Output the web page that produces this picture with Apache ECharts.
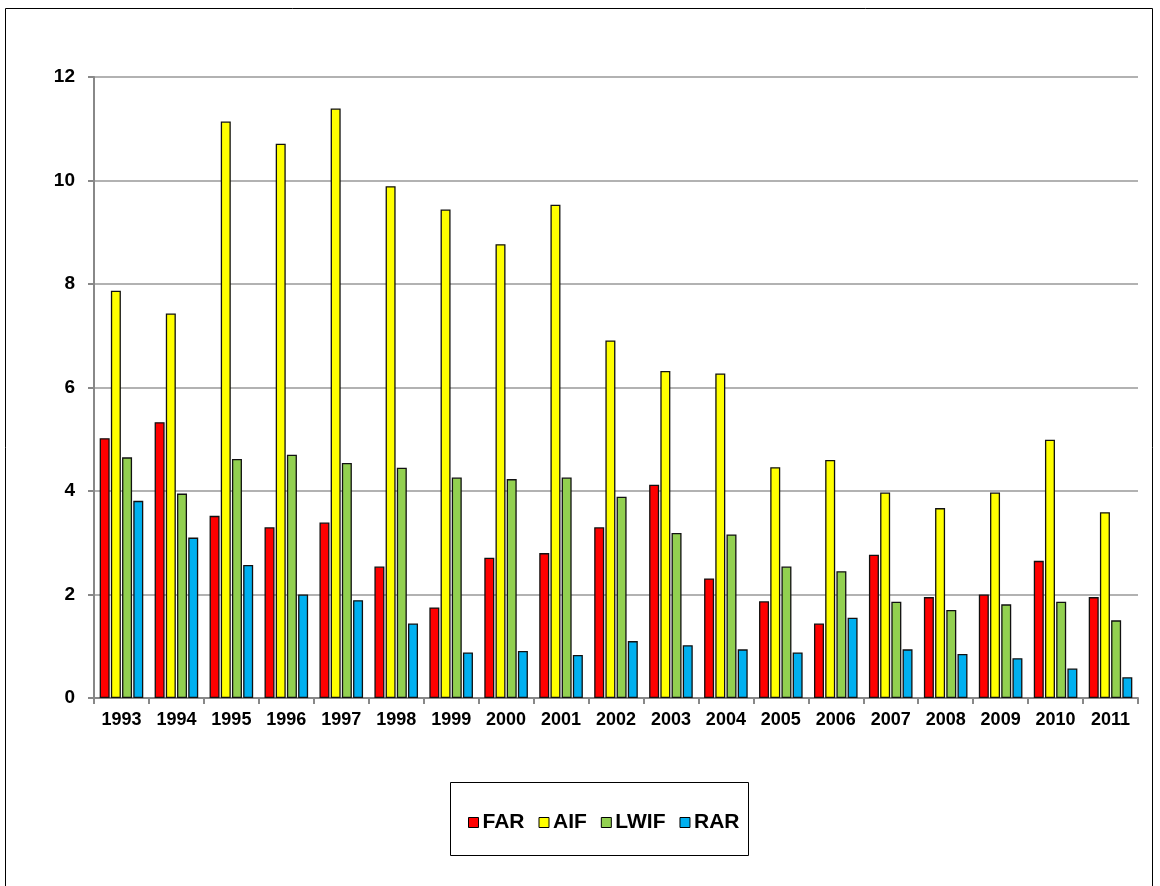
<!DOCTYPE html>
<html>
<head>
<meta charset="utf-8">
<title>FAR / AIF / LWIF / RAR</title>
<script src="https://cdn.jsdelivr.net/npm/echarts@6/dist/echarts.min.js"></script>
<style>
    html, body { margin: 0; padding: 0; background: #fff; }
    #main { width: 1160px; height: 886px; }
</style>
</head>
<body>
<div id="main"></div>
<script>
var years = ['1993', '1994', '1995', '1996', '1997', '1998', '1999', '2000', '2001', '2002',
    '2003', '2004', '2005', '2006', '2007', '2008', '2009', '2010', '2011'];
var farValues = [5.02, 5.33, 3.52, 3.30, 3.39, 2.54, 1.75, 2.71, 2.80, 3.30,
    4.12, 2.31, 1.87, 1.44, 2.77, 1.95, 2.00, 2.65, 1.95];
var aifValues = [7.87, 7.43, 11.14, 10.71, 11.39, 9.89, 9.44, 8.77, 9.53, 6.91,
    6.32, 6.27, 4.46, 4.60, 3.97, 3.67, 3.97, 4.99, 3.59];
var lwifValues = [4.65, 3.95, 4.62, 4.70, 4.54, 4.45, 4.26, 4.23, 4.26, 3.89,
    3.19, 3.16, 2.54, 2.45, 1.86, 1.70, 1.81, 1.86, 1.50];
var rarValues = [3.81, 3.10, 2.57, 2.00, 1.89, 1.44, 0.88, 0.91, 0.83, 1.10,
    1.02, 0.94, 0.88, 1.55, 0.94, 0.85, 0.77, 0.57, 0.40];
var seriesNames = ['FAR', 'AIF', 'LWIF', 'RAR'];
var seriesColors = ['#FF0000', '#FFFF00', '#92D050', '#00B0F0'];

var myChart = echarts.init(document.getElementById('main'));
window.onresize = function () {
    myChart.resize();
};

function barSeries(idx, values) {
    return {
        name: seriesNames[idx],
        type: 'bar',
        data: values,
        barWidth: 10,
        barGap: '12%',
        itemStyle: {
            color: seriesColors[idx],
            borderColor: '#111',
            borderWidth: 1.3
        }
    };
}

var option = {
    animation: false,
    backgroundColor: '#fff',
    textStyle: { fontFamily: 'Liberation Sans, Arial, sans-serif' },
    graphic: [
        {
            type: 'rect',
            shape: { x: 5.5, y: 8.5, width: 1147, height: 890 },
            style: { fill: 'none', stroke: '#000', lineWidth: 1 },
            silent: true
        },
        {
            type: 'rect',
            shape: { x: 450.5, y: 782.5, width: 298, height: 73 },
            style: { fill: 'none', stroke: '#000', lineWidth: 1 },
            silent: true
        }
    ],
    legend: {
        left: 463,
        top: 807,
        icon: 'rect',
        itemWidth: 10,
        itemHeight: 10,
        itemGap: 14,
        textStyle: { fontSize: 21, fontWeight: 'bold', color: '#000', padding: [0, 0, 0, -1] },
        itemStyle: { borderColor: '#000', borderWidth: 1 },
        data: seriesNames
    },
    grid: {
        left: 94,
        right: 22,
        top: 77,
        bottom: 188
    },
    xAxis: {
        type: 'category',
        data: years,
        axisLine: { lineStyle: { color: '#888', width: 2 } },
        axisTick: { show: true, interval: 0, length: 6, lineStyle: { color: '#888', width: 2 } },
        axisLabel: { interval: 0, fontSize: 18, fontWeight: 'bold', color: '#000', margin: 13 }
    },
    yAxis: {
        type: 'value',
        min: 0,
        max: 12,
        interval: 2,
        axisLine: { show: true, lineStyle: { color: '#888', width: 2 } },
        axisTick: { show: true, inside: false, length: 6, lineStyle: { color: '#888', width: 2 } },
        axisLabel: { fontSize: 19, fontWeight: 'bold', color: '#000', margin: 19 },
        splitLine: { lineStyle: { color: '#999', width: 1.5 } }
    },
    series: [
        barSeries(0, farValues),
        barSeries(1, aifValues),
        barSeries(2, lwifValues),
        barSeries(3, rarValues)
    ]
};

myChart.setOption(option);
</script>
</body>
</html>
